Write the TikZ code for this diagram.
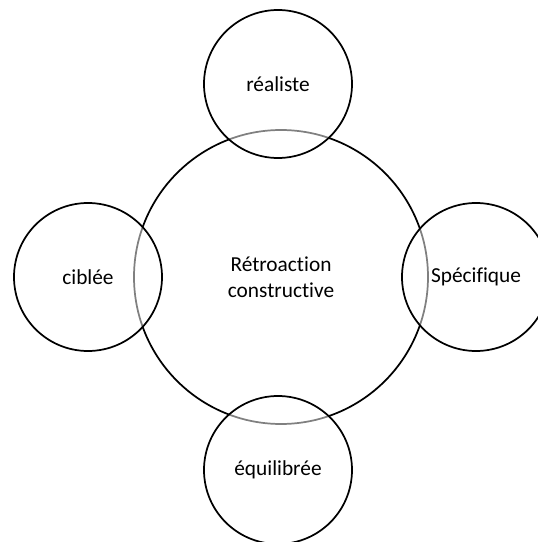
\documentclass[tikz,border=0pt]{standalone}
\usepackage{fontspec}
\setmainfont{Carlito}[Ligatures=NoCommon]
\usetikzlibrary{positioning}

\tikzset{
  hub/.style={draw=black, line width=1.3pt, circle, minimum size=220.5pt, align=center, inner sep=0pt},
  petal/.style={draw=black, line width=1.3pt, circle, minimum size=111pt, inner sep=0pt,
    fill=white, fill opacity=0.5, text opacity=1},
}

\begin{document}
\begin{tikzpicture}[on grid, node distance=144.75pt,
    font=\fontsize{16}{19.5}\selectfont]
    \clip (-210.75pt,207.75pt) rectangle (192.75pt,-198.75pt);

    \node [hub] (feedback) {Rétroaction\\constructive};

    \node [petal, above=of feedback, xshift=-2.25pt] (realist) {réaliste};
    \node [petal, right=of feedback, xshift=1.5pt] (specific) {Spécifique};
    \node [petal, below=of feedback, xshift=-2.25pt] (balanced) {équilibrée};
    \node [petal, left=of feedback] (targeted) {ciblée};
\end{tikzpicture}
\end{document}
